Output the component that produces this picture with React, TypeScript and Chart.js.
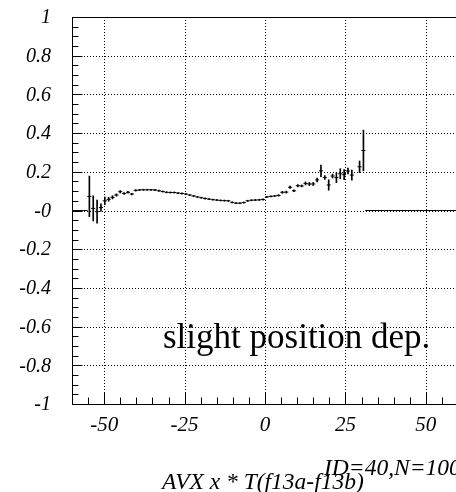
import React, { useEffect, useRef } from 'react';
import { Chart, registerables } from 'chart.js';

Chart.register(...registerables);

// ---- data ----
const X_MIN = -60;
const X_MAX = 60;
const BIN_WIDTH = 1.2;

// 100 bins from -60 to 60 (profile mean values)
const binValues: (number | null)[] = [
  0, 0, 0, 0, 0.073, 0.011, -0.006, 0.015, 0.05, 0.058,
  0.068, 0.08, 0.097, 0.088, 0.094, 0.085, 0.104, 0.106, 0.107, 0.107,
  0.107, 0.106, 0.102, 0.098, 0.094, 0.093, 0.093, 0.09, 0.088, 0.085,
  0.08, 0.075, 0.07, 0.066, 0.062, 0.059, 0.056, 0.054, 0.052, 0.051,
  0.05, 0.042, 0.038, 0.038, 0.041, 0.05, 0.053, 0.054, 0.055, 0.057,
  0.07, 0.073, 0.075, 0.078, 0.094, 0.095, 0.12, 0.102, 0.128, 0.127,
  0.14, 0.137, 0.137, 0.158, 0.205, 0.17, 0.132, 0.178, 0.17, 0.19,
  0.185, 0.204, 0.183, null, 0.226, 0.31, 0, 0, 0, 0,
  0, 0, 0, 0, 0, 0, 0, 0, 0, 0,
  0, 0, 0, 0, 0, 0, 0, 0, 0, 0,
];

const binErrors: number[] = [
  0, 0, 0, 0, 0.105, 0.065, 0.06, 0.02, 0.02, 0.01,
  0.008, 0.006, 0.006, 0.005, 0.005, 0.004, 0.004, 0.003, 0.003, 0.003,
  0.003, 0.003, 0.003, 0.003, 0.003, 0.003, 0.003, 0.003, 0.003, 0.003,
  0.003, 0.003, 0.003, 0.003, 0.003, 0.003, 0.003, 0.003, 0.003, 0.003,
  0.003, 0.003, 0.003, 0.003, 0.003, 0.003, 0.003, 0.003, 0.003, 0.003,
  0.003, 0.003, 0.003, 0.004, 0.005, 0.005, 0.006, 0.005, 0.006, 0.005,
  0.008, 0.008, 0.008, 0.01, 0.03, 0.01, 0.027, 0.01, 0.026, 0.026,
  0.026, 0.015, 0.026, 0, 0.03, 0.105, 0, 0, 0, 0,
  0, 0, 0, 0, 0, 0, 0, 0, 0, 0,
  0, 0, 0, 0, 0, 0, 0, 0, 0, 0,
];

const xTickValues = [-50, -25, 0, 25, 50];
const xTickLabels = ['-50', '-25', '0', '25', '50'];
const yTickValues = [-1, -0.8, -0.6, -0.4, -0.2, 0, 0.2, 0.4, 0.6, 0.8, 1];
const yTickLabels = ['-1', '-0.8', '-0.6', '-0.4', '-0.2', '-0', '0.2', '0.4', '0.6', '0.8', '1'];
const X_MINOR_STEP = 5;
const Y_MINOR_STEP = 0.05;

const annotationText = 'slight position dep.';
const statsText = 'ID=40,N=100';
const axisTitleText = 'AVX x * T(f13a-f13b)';

const SERIF = '"Liberation Serif", "Times New Roman", serif';

const binCenters = binValues.map((_, i) => X_MIN + BIN_WIDTH * (i + 0.5));

const rootStylePlugin = {
  id: 'rootStyle',
  beforeDatasetsDraw(chart: any) {
    const { ctx, chartArea: a, scales } = chart;
    const xs = scales.x;
    const ys = scales.y;
    ctx.save();
    ctx.strokeStyle = '#000';
    ctx.lineWidth = 1;
    ctx.setLineDash([1, 2]);
    xTickValues.forEach((v) => {
      const px = Math.round(xs.getPixelForValue(v)) + 0.5;
      ctx.beginPath();
      ctx.moveTo(px, a.top);
      ctx.lineTo(px, a.bottom);
      ctx.stroke();
    });
    yTickValues.forEach((v) => {
      if (v === yTickValues[0] || v === yTickValues[yTickValues.length - 1]) return;
      const py = Math.round(ys.getPixelForValue(v)) + 0.5;
      ctx.beginPath();
      ctx.moveTo(a.left, py);
      ctx.lineTo(a.right, py);
      ctx.stroke();
    });
    ctx.restore();
  },
  afterDraw(chart: any) {
    const { ctx, chartArea: a, scales } = chart;
    const xs = scales.x;
    const ys = scales.y;
    ctx.save();
    ctx.strokeStyle = '#000';
    ctx.lineWidth = 1;
    ctx.setLineDash([]);
    const L = Math.round(a.left) + 0.5;
    const R = Math.round(a.right) + 0.5;
    const T = Math.round(a.top) + 0.5;
    const B = Math.round(a.bottom) + 0.5;
    ctx.strokeRect(L, T, R - L, B - T);

    // x ticks (pointing up from bottom)
    const nx = Math.round((X_MAX - X_MIN) / X_MINOR_STEP);
    for (let k = 0; k <= nx; k++) {
      const v = X_MIN + k * X_MINOR_STEP;
      const major = xTickValues.includes(v);
      const px = Math.round(xs.getPixelForValue(v)) + 0.5;
      ctx.beginPath();
      ctx.moveTo(px, B);
      ctx.lineTo(px, B - (major ? 12 : 7));
      ctx.stroke();
    }
    // y ticks (pointing right from left axis)
    const ny = Math.round(2 / Y_MINOR_STEP);
    for (let k = 0; k <= ny; k++) {
      const v = -1 + k * Y_MINOR_STEP;
      const major = k % 4 === 0;
      const py = Math.round(ys.getPixelForValue(v)) + 0.5;
      ctx.beginPath();
      ctx.moveTo(L, py);
      ctx.lineTo(L + (major ? 10 : 6), py);
      ctx.stroke();
    }

    ctx.fillStyle = '#000';
    // y labels
    ctx.font = `italic 20px ${SERIF}`;
    ctx.textAlign = 'right';
    ctx.textBaseline = 'middle';
    yTickValues.forEach((v, i) => {
      ctx.fillText(yTickLabels[i], 51, ys.getPixelForValue(v) + 1);
    });
    // x labels
    ctx.font = `italic 21px ${SERIF}`;
    ctx.textAlign = 'center';
    xTickValues.forEach((v, i) => {
      ctx.fillText(xTickLabels[i], xs.getPixelForValue(v), 425);
    });

    // annotation text
    ctx.textAlign = 'left';
    ctx.textBaseline = 'alphabetic';
    ctx.font = `35px ${SERIF}`;
    ctx.fillText(annotationText, 163, 348);

    ctx.font = `italic 23.5px ${SERIF}`;
    ctx.fillText(statsText, 324, 475);
    ctx.fillText(axisTitleText, 162, 489);
    ctx.restore();
  },
};

export default function App() {
  const canvasRef = useRef<HTMLCanvasElement | null>(null);

  useEffect(() => {
    if (!canvasRef.current) return;
    const markerData: { x: number; y: number }[] = [];
    const errorData: { x: number; y: [number, number] }[] = [];
    binValues.forEach((v, i) => {
      if (v === null) return;
      markerData.push({ x: binCenters[i], y: v });
      const e = binErrors[i];
      if (e > 0) errorData.push({ x: binCenters[i], y: [v - e, v + e] });
    });

    const chart = new Chart(canvasRef.current, {
      type: 'scatter',
      data: {
        datasets: [
          {
            type: 'bar',
            data: errorData as any,
            backgroundColor: '#000',
            borderWidth: 0,
            barThickness: 1,
          } as any,
          {
            type: 'scatter',
            data: markerData,
            pointStyle: 'line',
            borderColor: '#000',
            backgroundColor: '#000',
            pointBorderWidth: 1,
            pointRadius: (c: any) => {
              const s = c.chart.scales.x;
              return Math.abs(s.getPixelForValue(BIN_WIDTH) - s.getPixelForValue(0)) / 2 + 0.1;
            },
          } as any,
        ],
      },
      options: {
        animation: false,
        responsive: false,
        maintainAspectRatio: false,
        events: [],
        layout: { padding: { left: 72, top: 17, right: 12, bottom: 88 } },
        plugins: { legend: { display: false }, tooltip: { enabled: false } },
        scales: {
          x: { type: 'linear', min: X_MIN, max: X_MAX, offset: false, display: false },
          y: { type: 'linear', min: -1, max: 1, display: false },
        },
      },
      plugins: [rootStylePlugin],
    });
    return () => chart.destroy();
  }, []);

  return (
    <div
      style={{
        position: 'fixed',
        left: 0,
        top: 0,
        width: 456,
        height: 492,
        overflow: 'hidden',
        background: '#fff',
      }}
    >
      <canvas ref={canvasRef} width={470} height={492} style={{ display: 'block' }} />
    </div>
  );
}
